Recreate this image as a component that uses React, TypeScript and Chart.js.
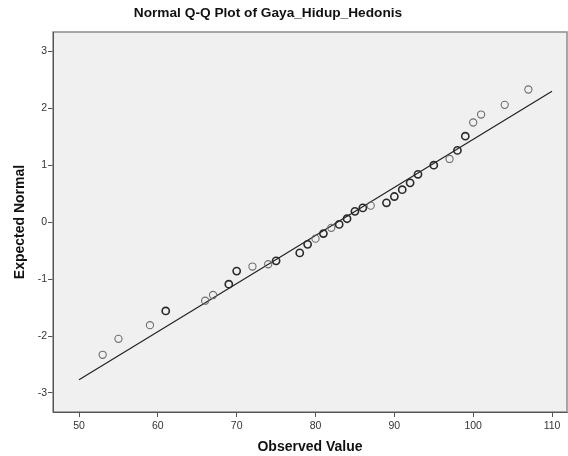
import React, { useEffect, useRef } from "react";
import { Chart, registerables } from "chart.js";

Chart.register(...registerables);

const chartTitle = "Normal Q-Q Plot of Gaya_Hidup_Hedonis";
const xAxisTitle = "Observed Value";
const yAxisTitle = "Expected Normal";

const observed = [53, 55, 59, 61, 66, 67, 69, 70, 72, 74, 75, 78, 79, 80, 81, 82, 83, 84, 85, 86, 87, 89, 90, 91, 92, 93, 95, 97, 98, 99, 100, 101, 104, 107];
const expected = [-2.33, -2.05, -1.81, -1.56, -1.38, -1.28, -1.09, -0.86, -0.78, -0.74, -0.68, -0.54, -0.39, -0.29, -0.2, -0.1, -0.04, 0.06, 0.19, 0.25, 0.29, 0.34, 0.45, 0.57, 0.69, 0.84, 1.0, 1.11, 1.26, 1.51, 1.75, 1.89, 2.06, 2.33];
const counts = [1, 1, 1, 2, 1, 1, 2, 2, 1, 1, 2, 2, 2, 1, 2, 1, 2, 2, 2, 2, 1, 2, 2, 2, 2, 2, 2, 1, 2, 2, 1, 1, 1, 1];

const lineX = [50, 110];
const lineY = [-2.77, 2.3];

const xTicks = [50, 60, 70, 80, 90, 100, 110];
const yTicks = [-3, -2, -1, 0, 1, 2, 3];

const FONT = "'Liberation Sans', Arial, sans-serif";

export default function App() {
  const ref = useRef<HTMLCanvasElement | null>(null);

  useEffect(() => {
    const canvas = ref.current;
    if (!canvas) return;

    const framePlugin = {
      id: "frame",
      beforeDraw(chart: any) {
        const { ctx, chartArea } = chart;
        ctx.save();
        ctx.fillStyle = "#f0f0f0";
        ctx.fillRect(chartArea.left, chartArea.top, chartArea.right - chartArea.left, chartArea.bottom - chartArea.top);
        ctx.restore();
      },
      afterDraw(chart: any) {
        const { ctx, chartArea } = chart;
        ctx.save();
        ctx.strokeStyle = "#8c8c8c";
        ctx.lineWidth = 1.5;
        ctx.strokeRect(chartArea.left, chartArea.top, chartArea.right - chartArea.left, chartArea.bottom - chartArea.top);
        ctx.strokeStyle = "#555";
        ctx.lineWidth = 1;
        ctx.beginPath();
        ctx.moveTo(chartArea.left + 0.5, chartArea.top);
        ctx.lineTo(chartArea.left + 0.5, chartArea.bottom + 0.5);
        ctx.lineTo(chartArea.right, chartArea.bottom + 0.5);
        ctx.stroke();
        ctx.fillStyle = "#111";
        ctx.font = `bold 13.7px ${FONT}`;
        ctx.textAlign = "center";
        ctx.textBaseline = "middle";
        ctx.fillText(chartTitle, 268, 13);
        ctx.restore();
      },
    };

    const chart = new Chart(canvas, {
      type: "scatter",
      data: {
        datasets: [
          {
            type: "line",
            data: lineX.map((x, i) => ({ x, y: lineY[i] })),
            borderColor: "#222",
            borderWidth: 1.2,
            pointRadius: 0,
            fill: false,
            order: 2,
          } as any,
          {
            type: "scatter",
            data: observed.map((x, i) => ({ x, y: expected[i] })),
            pointRadius: 3.6,
            pointBackgroundColor: "rgba(0,0,0,0)",
            pointBorderColor: counts.map((c) => (c > 1 ? "#2a2a2a" : "#6e6e6e")),
            pointBorderWidth: counts.map((c) => (c > 1 ? 1.6 : 1.1)),
            order: 1,
          } as any,
        ],
      },
      options: {
        responsive: false,
        animation: false,
        layout: { autoPadding: false, padding: { top: 32, right: 1, left: 0, bottom: 0 } },
        plugins: {
          legend: { display: false },
          tooltip: { enabled: false },
          title: { display: false },
        },
        scales: {
          x: {
            type: "linear",
            min: 46.7,
            max: 111.9,
            afterBuildTicks: (s: any) => {
              s.ticks = xTicks.map((v) => ({ value: v }));
            },
            afterFit: (s: any) => {
              s.height = 44;
              s.paddingLeft = 0;
              s.paddingRight = 0;
            },
            ticks: {
              color: "#333",
              font: { family: FONT, size: 10.5 },
              padding: 3,
              maxRotation: 0,
            },
            grid: {
              drawOnChartArea: false,
              drawTicks: true,
              tickLength: 5,
              color: "#555",
            },
            border: { display: true, color: "#555" },
            title: {
              display: true,
              text: xAxisTitle,
              color: "#111",
              font: { family: FONT, size: 14, weight: "bold" },
              padding: { top: 0, bottom: 0.5 },
            },
          },
          y: {
            type: "linear",
            min: -3.335,
            max: 3.34,
            afterBuildTicks: (s: any) => {
              s.ticks = yTicks.map((v) => ({ value: v }));
            },
            afterFit: (s: any) => {
              s.width = 53;
              s.paddingTop = 0;
              s.paddingBottom = 0;
            },
            ticks: {
              color: "#333",
              font: { family: FONT, size: 10.5 },
              padding: 1,
            },
            grid: {
              drawOnChartArea: false,
              drawTicks: true,
              tickLength: 5,
              color: "#555",
            },
            border: { display: true, color: "#555" },
            title: {
              display: true,
              text: yAxisTitle,
              color: "#111",
              font: { family: FONT, size: 14, weight: "bold" },
              padding: { top: 11.5, bottom: 0 },
            },
          },
        },
      },
      plugins: [framePlugin],
    });

    return () => chart.destroy();
  }, []);

  return (
    <div style={{ position: "absolute", left: 0, top: 0, width: 568, height: 456 }}>
      <canvas ref={ref} width={568} height={456} style={{ display: "block" }} />
    </div>
  );
}
